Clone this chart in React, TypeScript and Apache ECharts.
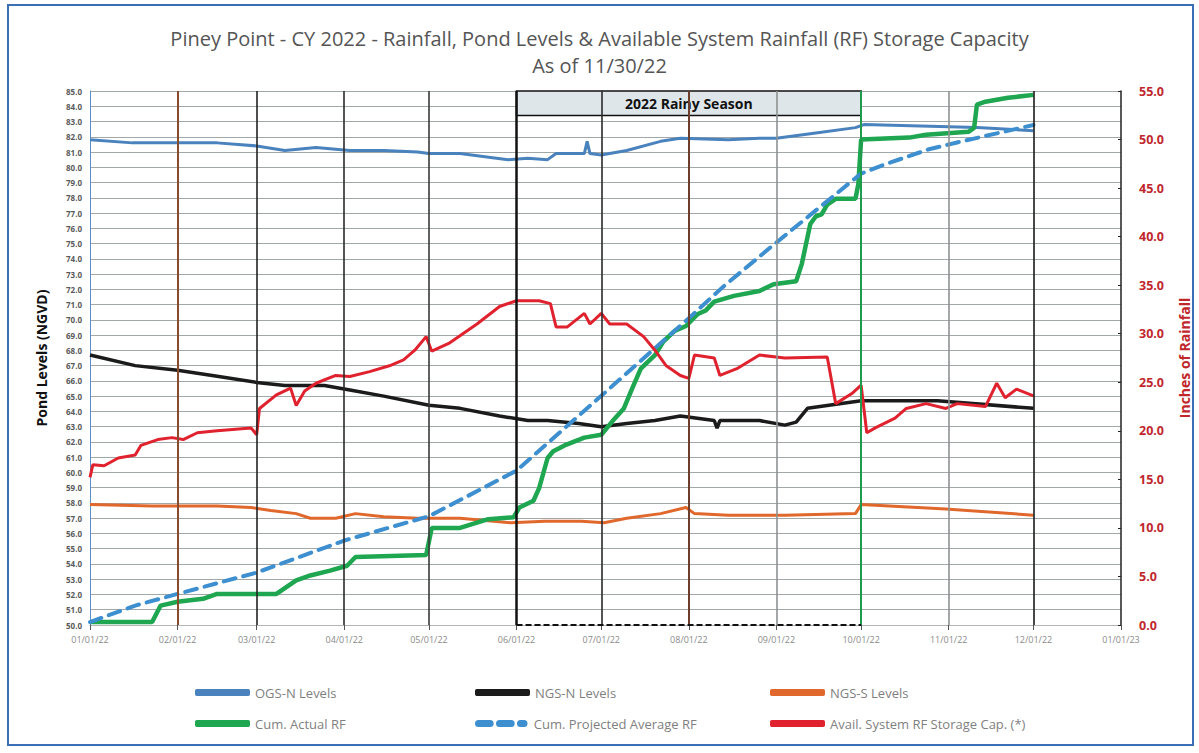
import React, { useEffect, useRef } from "react";
import * as echarts from "echarts";

const YEAR = "2022";

// OGS-N pond levels (ft NGVD, left axis)
const ogsnDates = ["01-01","01-16","02-01","02-15","03-01","03-11","03-22","04-03","04-15","04-27","05-01","05-12","05-29","06-05","06-12","06-15","06-25","06-26","06-27","07-01","07-10","07-22","07-29","08-15","08-26","09-01","09-13","09-29","10-02","11-11","12-01"];
const ogsnValues = [81.8,81.6,81.6,81.6,81.4,81.1,81.3,81.1,81.1,81.0,80.9,80.9,80.5,80.6,80.5,80.9,80.9,81.7,80.9,80.8,81.1,81.7,81.9,81.8,81.9,81.9,82.2,82.6,82.8,82.6,82.4];

// NGS-N pond levels
const ngsnDates = ["01-01","01-17","02-01","02-15","03-01","03-11","03-25","04-03","04-15","05-01","05-12","05-26","06-05","06-12","06-23","07-01","07-10","07-20","07-29","08-10","08-11","08-12","08-26","09-04","09-08","09-12","10-01","10-28","12-01"];
const ngsnValues = [67.7,67.0,66.7,66.3,65.9,65.7,65.7,65.4,65.0,64.4,64.2,63.7,63.4,63.4,63.2,63.0,63.2,63.4,63.7,63.4,62.9,63.4,63.4,63.1,63.3,64.2,64.7,64.7,64.2];

// NGS-S pond levels
const ngssDates = ["01-01","01-23","02-15","02-27","03-06","03-15","03-20","03-29","04-05","04-15","04-27","05-12","05-30","06-11","06-24","07-02","07-10","07-22","07-31","08-03","08-15","09-04","09-29","10-01","10-31","12-01"];
const ngssValues = [57.9,57.8,57.8,57.7,57.5,57.3,57.0,57.0,57.3,57.1,57.0,57.0,56.7,56.8,56.8,56.7,57.0,57.3,57.7,57.3,57.2,57.2,57.3,57.9,57.6,57.2];

// Cumulative actual rainfall (inches, right axis)
const actualDates = ["01-01","01-23","01-26","02-01","02-10","02-15","03-08","03-15","03-20","03-27","04-02","04-05","04-30","05-02","05-12","05-22","05-31","06-02","06-07","06-09","06-12","06-14","06-18","06-25","07-01","07-05","07-09","07-12","07-15","07-20","07-23","07-27","07-31","08-04","08-07","08-10","08-17","08-26","08-31","09-08","09-10","09-13","09-15","09-17","09-19","09-22","09-29","09-30","10-01","10-18","10-24","11-08","11-10","11-11","11-14","11-22","12-01"];
const actualValues = [0.3,0.3,2.0,2.4,2.7,3.2,3.2,4.6,5.1,5.6,6.1,7.0,7.2,10.0,10.0,10.9,11.1,12.1,12.8,14.1,17.2,17.9,18.5,19.3,19.6,21.0,22.3,24.4,26.4,27.8,29.2,30.3,30.8,32.0,32.4,33.3,33.9,34.4,35.1,35.4,37.2,41.3,42.1,42.3,43.3,43.9,43.9,45.4,50.0,50.2,50.5,50.8,51.2,53.6,53.9,54.3,54.6];

// Cumulative projected average rainfall
const projDates = ["01-01","01-17","02-01","03-01","04-01","05-01","06-01","07-01","08-01","08-13","09-01","10-01","10-09","10-25","11-04","12-01"];
const projValues = [0.3,2.0,3.2,5.4,8.7,11.2,15.9,23.6,31.6,34.8,39.4,46.5,47.4,49.0,49.7,51.5];

// Available system RF storage capacity
const capDates = ["01-01","01-02","01-06","01-11","01-17","01-19","01-25","01-30","02-03","02-08","02-15","02-27","03-01","03-02","03-08","03-13","03-15","03-18","03-22","03-29","04-03","04-10","04-17","04-22","04-26","04-30","05-02","05-08","05-18","05-26","06-01","06-09","06-13","06-15","06-19","06-25","06-27","07-01","07-04","07-10","07-16","07-20","07-24","07-29","08-01","08-03","08-10","08-12","08-18","08-26","09-04","09-19","09-22","09-28","10-01","10-03","10-06","10-13","10-17","10-24","10-31","11-04","11-14","11-18","11-21","11-25","12-01"];
const capValues = [15.2,16.5,16.4,17.2,17.5,18.5,19.1,19.3,19.1,19.8,20.0,20.3,19.6,22.3,23.7,24.4,22.6,24.1,24.9,25.7,25.6,26.1,26.7,27.3,28.3,29.7,28.2,29.0,31.0,32.8,33.4,33.4,33.1,30.7,30.7,32.1,31.0,32.1,31.0,31.0,29.7,28.3,26.7,25.7,25.4,27.8,27.5,25.7,26.4,27.8,27.5,27.6,22.8,23.9,24.7,19.8,20.3,21.3,22.3,22.8,22.3,22.8,22.5,24.9,23.4,24.3,23.6];

const FONT = "'Liberation Sans Narrow', 'Open Sans', sans-serif";

function ts(s: string) {
  return echarts.time.parse(s).getTime();
}
function pairs(dates: string[], values: number[]) {
  return dates.map((d, i) => [ts(`${YEAR}-${d}`), values[i]]);
}
function pad(n: number) {
  return n < 10 ? "0" + n : String(n);
}

const monthLines: [string, string, number][] = [
  ["2022-02-01", "#8a4a2c", 2],
  ["2022-03-01", "#222222", 1.6],
  ["2022-04-01", "#2a2a2a", 1.6],
  ["2022-05-01", "#3a3a3a", 1.6],
  ["2022-06-01", "#111111", 2.5],
  ["2022-07-01", "#2a2a2a", 1.6],
  ["2022-08-01", "#6e3e2c", 2],
  ["2022-09-01", "#8d9292", 1.6],
  ["2022-10-01", "#1f9b4e", 2],
  ["2022-11-01", "#8d9292", 1.6],
  ["2022-12-01", "#1a1a1a", 1.6],
];

function legendItem(name: string, left: number, top: number, icon: string) {
  return {
    data: [name],
    left,
    top,
    icon,
    itemWidth: 55,
    itemHeight: 7,
    textStyle: { color: "#7f7f7f", fontSize: 13, fontFamily: FONT },
    selectedMode: false,
  };
}

export default function App() {
  const ref = useRef<HTMLDivElement>(null);
  useEffect(() => {
    document.body.style.margin = "0";
    const chart = echarts.init(ref.current!, null, { renderer: "svg" });
    const dashIcon = "path://M2,0 h10 a3,3 0 0 1 0,6 h-10 a3,3 0 0 1 0,-6 z M20,0 h10 a3,3 0 0 1 0,6 h-10 a3,3 0 0 1 0,-6 z M38,0 h3 a3,3 0 0 1 0,6 h-3 a3,3 0 0 1 0,-6 z";
    chart.setOption({
      animation: false,
      backgroundColor: "#ffffff",
      textStyle: { fontFamily: FONT },
      title: {
        text: "Piney Point - CY 2022 - Rainfall, Pond Levels & Available System Rainfall (RF) Storage Capacity\nAs of 11/30/22",
        left: "center",
        top: 20,
        textStyle: { fontSize: 20, fontWeight: "normal", color: "#555555", lineHeight: 27, fontFamily: FONT },
      },
      legend: [
        legendItem("OGS-N Levels", 190, 681, "roundRect"),
        legendItem("NGS-N Levels", 470, 681, "roundRect"),
        legendItem("NGS-S Levels", 765, 681, "roundRect"),
        legendItem("Cum. Actual RF", 190, 712, "roundRect"),
        legendItem("Cum. Projected Average RF", 470, 712, dashIcon),
        legendItem("Avail. System RF Storage Cap. (*)", 765, 712, "roundRect"),
      ],
      grid: { left: 90, right: 74, top: 91, bottom: 128 },
      xAxis: {
        type: "time",
        min: ts("2022-01-01"),
        max: ts("2023-01-01"),
        splitNumber: 12,
        minInterval: 28 * 86400000,
        axisLine: { lineStyle: { color: "#b5b5b5" } },
        axisTick: { show: true, length: 5, lineStyle: { color: "#555" } },
        splitLine: { show: false },
        axisLabel: {
          color: "#8a8a8a",
          fontSize: 9,
          margin: 10,
          showMinLabel: true,
          showMaxLabel: true,
          hideOverlap: false,
          formatter: (v: number) => {
            const d = new Date(v);
            return `${pad(d.getMonth() + 1)}/${pad(d.getDate())}/${String(d.getFullYear()).slice(2)}`;
          },
        },
      },
      yAxis: [
        {
          type: "value",
          position: "left",
          min: 50,
          max: 85,
          interval: 1,
          name: "Pond Levels (NGVD)",
          nameLocation: "middle",
          nameRotate: 90,
          nameGap: 42,
          nameTextStyle: { fontSize: 14, fontWeight: "bold", color: "#111", fontFamily: FONT },
          axisLine: { show: true, lineStyle: { color: "#5b8fc7", width: 1 } },
          axisTick: { show: false },
          axisLabel: {
            formatter: (v: number) => v.toFixed(1),
            fontSize: 8,
            fontWeight: "bold",
            color: "#5a5a5a",
            margin: 8,
          },
          splitLine: { lineStyle: { color: "#a2a8a8", width: 1 } },
        },
        {
          type: "value",
          position: "right",
          min: 0,
          max: 55,
          interval: 5,
          name: "Inches of Rainfall",
          nameLocation: "middle",
          nameRotate: 90,
          nameGap: 56,
          nameTextStyle: { fontSize: 14, fontWeight: "bold", color: "#c0272d", fontFamily: FONT },
          axisLine: { show: true, lineStyle: { color: "#222", width: 1.5 } },
          axisTick: { show: true, length: 3, inside: true, lineStyle: { color: "#222" } },
          axisLabel: {
            formatter: (v: number) => v.toFixed(1),
            fontSize: 12.5,
            fontWeight: "bold",
            color: "#c0272d",
            margin: 18,
          },
          splitLine: { show: false },
        },
      ],
      graphic: [
        {
          type: "rect",
          silent: true,
          shape: { x: 8, y: 5, width: 1185, height: 740 },
          style: { fill: "none", stroke: "#3a6fb5", lineWidth: 2 },
        },
      ],
      series: [
        {
          name: "OGS-N Levels",
          type: "line",
          yAxisIndex: 0,
          symbol: "none",
          data: pairs(ogsnDates, ogsnValues),
          lineStyle: { color: "#4a82bd", width: 3 },
          itemStyle: { color: "#4a82bd" },
          markLine: {
            silent: true,
            symbol: ["none", "none"],
            label: { show: false },
            data: [
              ...monthLines.map(([d, c, w]) => ({ xAxis: ts(d), lineStyle: { color: c, width: w, type: "solid" } })),
              [
                { coord: [ts("2022-06-01"), 50], lineStyle: { color: "#111", width: 2, type: [6, 3] } },
                { coord: [ts("2022-10-01"), 50] },
              ],
            ],
          },
          markArea: {
            silent: true,
            label: { show: true, position: "inside", fontSize: 14, fontWeight: "bold", color: "#111", fontFamily: FONT },
            data: [
              [
                {
                  name: "2022 Rainy Season",
                  xAxis: ts("2022-06-01"),
                  yAxis: 83.4,
                  itemStyle: { color: "#dfe6ea", borderColor: "#111", borderWidth: 1.5 },
                },
                { xAxis: ts("2022-10-01"), yAxis: 85 },
              ],
            ],
          },
        },
        {
          name: "NGS-N Levels",
          type: "line",
          yAxisIndex: 0,
          symbol: "none",
          data: pairs(ngsnDates, ngsnValues),
          lineStyle: { color: "#1b1b1b", width: 3.5 },
          itemStyle: { color: "#1b1b1b" },
        },
        {
          name: "NGS-S Levels",
          type: "line",
          yAxisIndex: 0,
          symbol: "none",
          data: pairs(ngssDates, ngssValues),
          lineStyle: { color: "#e0682c", width: 3 },
          itemStyle: { color: "#e0682c" },
        },
        {
          name: "Cum. Actual RF",
          type: "line",
          yAxisIndex: 1,
          symbol: "none",
          data: pairs(actualDates, actualValues),
          lineStyle: { color: "#1ea650", width: 4.5 },
          itemStyle: { color: "#1ea650" },
        },
        {
          name: "Cum. Projected Average RF",
          type: "line",
          yAxisIndex: 1,
          symbol: "none",
          data: pairs(projDates, projValues),
          lineStyle: { color: "#3d8fcf", width: 4, type: [12, 8], cap: "round" },
          itemStyle: { color: "#3d8fcf" },
        },
        {
          name: "Avail. System RF Storage Cap. (*)",
          type: "line",
          yAxisIndex: 1,
          symbol: "none",
          data: pairs(capDates, capValues),
          lineStyle: { color: "#e0222f", width: 3 },
          itemStyle: { color: "#e0222f" },
        },
      ],
    });
    return () => chart.dispose();
  }, []);
  return <div ref={ref} style={{ width: 1199, height: 753 }} />;
}
